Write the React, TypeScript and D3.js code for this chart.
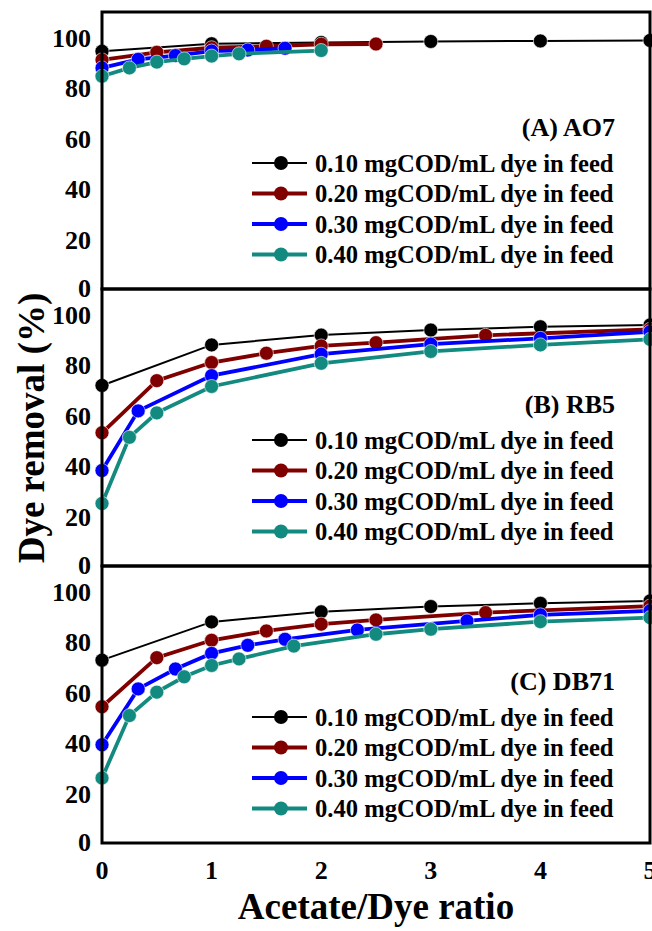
import React from "react";
import * as d3 from "d3";

const W = 652;
const H = 931;

// ---- data ----
const panelNames = ["(A) AO7", "(B) RB5", "(C) DB71"];
const seriesLabels = [
  "0.10 mgCOD/mL dye in feed",
  "0.20 mgCOD/mL dye in feed",
  "0.30 mgCOD/mL dye in feed",
  "0.40 mgCOD/mL dye in feed",
];
const seriesColors = ["#000000", "#800000", "#0000ff", "#138a80"];
const yTicks = [0, 20, 40, 60, 80, 100];
const xTicks = [0, 1, 2, 3, 4, 5];

// AO7
const ao7_x1 = [0, 1, 2, 3, 4, 5];
const ao7_y1 = [94.4, 97.4, 97.9, 98.3, 98.5, 98.7];
const ao7_x2 = [0, 0.5, 1, 1.5, 2, 2.5];
const ao7_y2 = [91.0, 94.0, 95.8, 96.4, 97.2, 97.3];
const ao7_x3 = [0, 0.33, 0.67, 1, 1.33, 1.67];
const ao7_y3 = [87.8, 91.2, 92.7, 94.5, 94.9, 95.6];
const ao7_x4 = [0, 0.25, 0.5, 0.75, 1, 1.25, 2];
const ao7_y4 = [84.5, 87.8, 90.1, 91.4, 92.5, 93.4, 94.7];

// RB5
const rb5_x1 = [0, 1, 2, 3, 4, 5];
const rb5_y1 = [71.7, 87.8, 91.7, 93.7, 95.0, 95.7];
const rb5_x2 = [0, 0.5, 1, 1.5, 2, 2.5, 3.5, 5];
const rb5_y2 = [52.9, 73.6, 80.8, 84.5, 87.4, 88.7, 91.6, 94.0];
const rb5_x3 = [0, 0.33, 1, 2, 3, 4, 5];
const rb5_y3 = [37.9, 61.6, 75.6, 84.1, 88.1, 90.4, 93.0];
const rb5_x4 = [0, 0.25, 0.5, 1, 2, 3, 4, 5];
const rb5_y4 = [24.8, 51.1, 60.8, 71.3, 80.5, 85.2, 87.8, 90.0];

// DB71
const db71_x1 = [0, 1, 2, 3, 4, 5];
const db71_y1 = [72.6, 87.8, 91.8, 93.9, 95.2, 96.1];
const db71_x2 = [0, 0.5, 1, 1.5, 2, 2.5, 3.5, 5];
const db71_y2 = [54.1, 73.6, 80.5, 84.2, 86.9, 88.6, 91.5, 94.1];
const db71_x3 = [0, 0.33, 0.67, 1, 1.33, 1.67, 2.33, 3.33, 4, 5];
const db71_y3 = [39.0, 61.2, 69.1, 75.3, 78.5, 80.9, 84.6, 88.2, 90.6, 92.2];
const db71_x4 = [0, 0.25, 0.5, 0.75, 1, 1.25, 1.75, 2.5, 3, 4, 5];
const db71_y4 = [25.8, 50.6, 59.9, 66.0, 70.5, 73.1, 78.2, 82.9, 84.9, 87.9, 89.5];

const panelsData = [
  [
    [ao7_x1, ao7_y1],
    [ao7_x2, ao7_y2],
    [ao7_x3, ao7_y3],
    [ao7_x4, ao7_y4],
  ],
  [
    [rb5_x1, rb5_y1],
    [rb5_x2, rb5_y2],
    [rb5_x3, rb5_y3],
    [rb5_x4, rb5_y4],
  ],
  [
    [db71_x1, db71_y1],
    [db71_x2, db71_y2],
    [db71_x3, db71_y3],
    [db71_x4, db71_y4],
  ],
];

const FONT = "'Liberation Serif', 'Times New Roman', serif";

export default function App() {
  const left = 102;
  const right = 650;
  const top = 12;
  const bottom = 843;
  const nP = 3;
  const pH = (bottom - top) / nP;

  const x = d3.scaleLinear().domain([0, 5]).range([left, right]);
  const lineWidths = [2, 3.8, 3.8, 3.8];

  return (
    <svg
      width={W}
      height={H}
      style={{ position: "absolute", left: 0, top: 0, background: "#fff" }}
      fontFamily={FONT}
      fontWeight="bold"
    >
      <rect x={0} y={0} width={W} height={H} fill="#fff" />
      {panelsData.map((series, pi) => {
        const y0 = top + pi * pH;
        const y1 = y0 + pH;
        const y = d3.scaleLinear().domain([0, 110]).range([y1, y0]);
        const line = d3
          .line<[number, number]>()
          .x((d) => x(d[0]))
          .y((d) => y(d[1]));
        return (
          <g key={pi}>
            {series.map((s, si) => {
              const pts: [number, number][] = s[0].map((xv, i) => [xv, s[1][i]]);
              return (
                <g key={si}>
                  <path
                    d={line(pts) || ""}
                    fill="none"
                    stroke={seriesColors[si]}
                    strokeWidth={lineWidths[si]}
                  />
                  {pts.map((p, k) => (
                    <circle
                      key={k}
                      cx={x(p[0])}
                      cy={y(p[1])}
                      r={7}
                      fill={seriesColors[si]}
                      stroke="#fff"
                      strokeWidth={0.6}
                    />
                  ))}
                </g>
              );
            })}
            {yTicks.map((t) => (
              <text
                key={t}
                x={91}
                y={y(t)}
                dy={t === 0 ? "0.3em" : "0.38em"}
                textAnchor="end"
                fontSize={26}
              >
                {t}
              </text>
            ))}
            {/* panel label */}
            <text x={615} y={y1 - 162} dy="0.35em" textAnchor="end" fontSize={26}>
              {panelNames[pi]}
            </text>
            {/* legend */}
            {seriesLabels.map((lab, li) => {
              const ly = y1 - 126 + li * 30.5;
              return (
                <g key={li}>
                  <line
                    x1={252}
                    x2={307}
                    y1={ly}
                    y2={ly}
                    stroke={seriesColors[li]}
                    strokeWidth={lineWidths[li]}
                  />
                  <circle cx={281} cy={ly} r={7} fill={seriesColors[li]} />
                  <text x={315} y={ly} dy="0.35em" fontSize={24.6}>
                    {lab}
                  </text>
                </g>
              );
            })}
            <rect
              x={left}
              y={y0}
              width={right - left}
              height={pH}
              fill="none"
              stroke="#000"
              strokeWidth={3}
            />
          </g>
        );
      })}
      {xTicks.map((t) => (
        <text key={t} x={x(t)} y={870} dy="0.35em" textAnchor="middle" fontSize={26}>
          {t}
        </text>
      ))}
      <text x={376} y={906} dy="0.35em" textAnchor="middle" fontSize={37}>
        Acetate/Dye ratio
      </text>
      <text
        transform={`translate(31,428) rotate(-90)`}
        dy="0.35em"
        textAnchor="middle"
        fontSize={37}
      >
        Dye removal (%)
      </text>
    </svg>
  );
}
